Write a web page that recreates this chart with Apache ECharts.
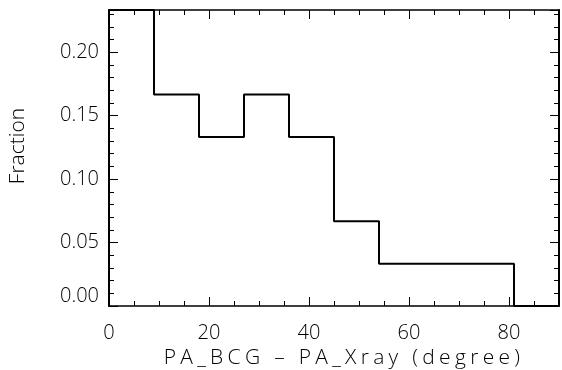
<!DOCTYPE html>
<html>
<head>
<meta charset="utf-8">
<script src="https://cdn.jsdelivr.net/npm/echarts@6/dist/echarts.min.js"></script>
<style>
  html, body { margin: 0; padding: 0; background: #fff; }
  #chart { width: 562px; height: 370px; }
</style>
</head>
<body>
<div id="chart"></div>
<script>
// left edges of the bins (width 9 degrees) and the fraction in each bin
const binEdges = [0, 9, 18, 27, 36, 45, 54, 63, 72, 81, 90];
const fractions = [0.2333, 0.1667, 0.1333, 0.1667, 0.1333, 0.0667, 0.0333, 0.0333, 0.0333, 0, 0];

const xTitle = "PA_BCG \u2013 PA_Xray (degree)";
const yTitle = "Fraction";

// the x title in the original is set with wide letter spacing;
// echarts has no letterSpacing option, so set it on the canvas for that one string
const ctxProto = CanvasRenderingContext2D.prototype;
const rawFillText = ctxProto.fillText;
ctxProto.fillText = function (t, x, y, w) {
  const spaced = t === xTitle;
  const f = this.font;
  this.letterSpacing = spaced ? "4.3px" : "0px";
  this.font = f;
  return w === undefined ? rawFillText.call(this, t, x, y) : rawFillText.call(this, t, x, y, w);
};

const txt = { color: "#000", fontFamily: "Open Sans", fontSize: 20, fontWeight: 300 };

const chart = echarts.init(document.getElementById("chart"));

const baseX = {
  type: "value",
  min: 0,
  max: 90,
  interval: 20,
  axisLine: { show: true, onZero: false, lineStyle: { color: "#000", width: 1.5 } },
  axisTick: { show: true, inside: true, length: 9, lineStyle: { color: "#000", width: 1 } },
  minorTick: { show: true, splitNumber: 4, length: 5, lineStyle: { color: "#000", width: 1 } },
  splitLine: { show: false },
};
const baseY = {
  type: "value",
  min: 0,
  max: 0.2333,
  interval: 0.05,
  axisLine: { show: true, onZero: false, lineStyle: { color: "#000", width: 2 } },
  axisTick: { show: true, inside: true, length: 9, lineStyle: { color: "#000", width: 1 } },
  minorTick: { show: true, splitNumber: 5, length: 5, lineStyle: { color: "#000", width: 1 } },
  splitLine: { show: false },
};

const option = {
  animation: false,
  backgroundColor: "#fff",
  grid: { left: 109, right: 3, top: 10, bottom: 64, outerBoundsMode: "none" },
  xAxis: [
    Object.assign({}, baseX, {
      position: "bottom",
      name: xTitle,
      nameLocation: "middle",
      nameGap: 42,
      nameTextStyle: Object.assign({}, txt, { fontSize: 21, padding: [0, 0, 0, 20] }),
      axisLabel: Object.assign({ margin: 17, showMaxLabel: false }, txt),
    }),
    Object.assign({}, baseX, {
      position: "top",
      axisLabel: { show: false },
    }),
  ],
  yAxis: [
    Object.assign({}, baseY, {
      position: "left",
      name: yTitle,
      nameLocation: "middle",
      nameGap: 80,
      nameTextStyle: Object.assign({ padding: [0, 0, 0, 24] }, txt, { fontSize: 21 }),
      axisLabel: Object.assign({
        margin: 10,
        showMaxLabel: false,
        verticalAlignMinLabel: "bottom",
        formatter: (v) => v.toFixed(2),
      }, txt),
    }),
    Object.assign({}, baseY, {
      position: "right",
      axisLabel: { show: false },
    }),
  ],
  series: [
    {
      type: "line",
      step: "end",
      symbol: "none",
      clip: false,
      data: binEdges.map((x, i) => [x, fractions[i]]),
      lineStyle: { color: "#000", width: 2 },
    },
  ],
};

chart.setOption(option);
</script>
</body>
</html>
